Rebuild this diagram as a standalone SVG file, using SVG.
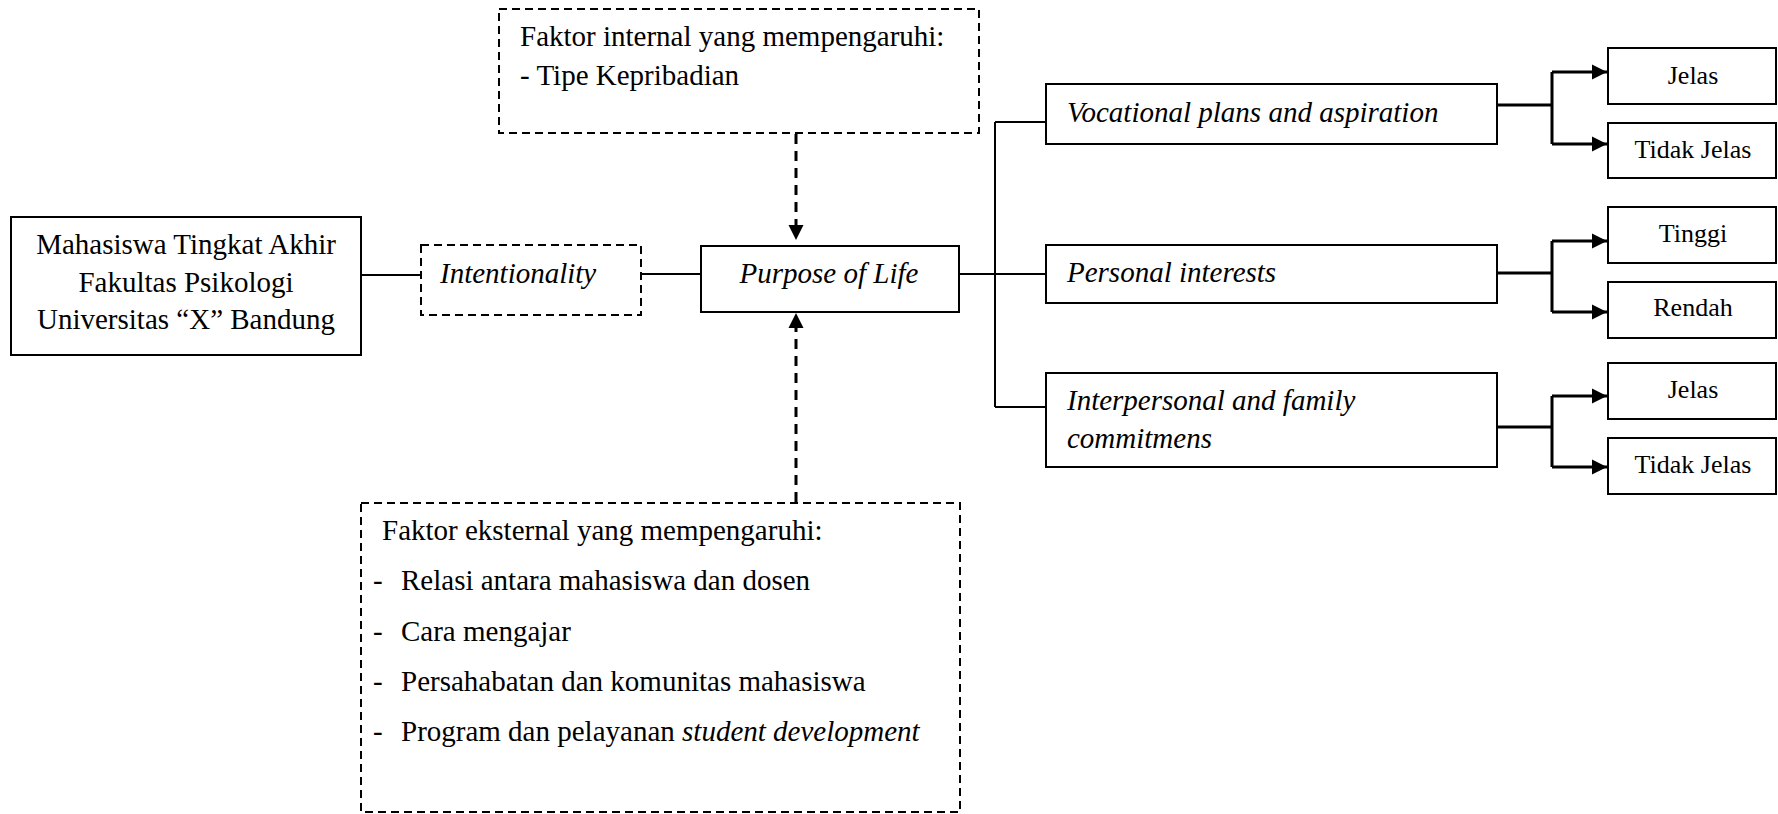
<svg xmlns="http://www.w3.org/2000/svg" width="1778" height="814" viewBox="0 0 1778 814">
<style>
text{font-family:"Liberation Serif","Times New Roman",serif;fill:#000}
.t{font-size:29px}
.r{font-size:26px;text-anchor:middle}
.i{font-style:italic}
.box{fill:#fff;stroke:#000;stroke-width:2}
.dbox{fill:#fff;stroke:#000;stroke-width:2;stroke-dasharray:8 5}
.ln{fill:none;stroke:#000;stroke-width:2}
.br{fill:none;stroke:#000;stroke-width:3}
.da{fill:none;stroke:#000;stroke-width:3;stroke-dasharray:10 7}
</style>
<defs>
<marker id="ah" markerUnits="userSpaceOnUse" markerWidth="16" markerHeight="16" viewBox="0 0 16 16" refX="15" refY="8" orient="auto">
<path d="M0,0.5 L15,8 L0,15.5 Z" fill="#000"/>
</marker>
</defs>
<g id="connectors">
<line class="ln" x1="361" y1="275" x2="421" y2="275"/>
<line class="ln" x1="641" y1="274" x2="701" y2="274"/>
<line class="ln" x1="959" y1="274" x2="1046" y2="274"/>
<line class="ln" x1="995" y1="122" x2="995" y2="407"/>
<line class="ln" x1="995" y1="122" x2="1046" y2="122"/>
<line class="ln" x1="995" y1="407" x2="1046" y2="407"/>
<line class="da" x1="796" y1="134" x2="796" y2="226"/>
<polygon points="788.5,225 803.5,225 796,240" fill="#000"/>
<line class="da" x1="796" y1="502" x2="796" y2="328"/>
<polygon points="788.5,328 803.5,328 796,313" fill="#000"/>
<path class="br" d="M1497,105 H1552 M1552,72 V144"/>
<path class="br" d="M1552,72 H1607" marker-end="url(#ah)"/>
<path class="br" d="M1552,144 H1607" marker-end="url(#ah)"/>
<path class="br" d="M1497,273 H1552 M1552,241 V312"/>
<path class="br" d="M1552,241 H1607" marker-end="url(#ah)"/>
<path class="br" d="M1552,312 H1607" marker-end="url(#ah)"/>
<path class="br" d="M1497,427 H1552 M1552,396 V467"/>
<path class="br" d="M1552,396 H1607" marker-end="url(#ah)"/>
<path class="br" d="M1552,467 H1607" marker-end="url(#ah)"/>
</g>
<g id="subject">
<rect class="box" x="11" y="217" width="350" height="138"/>
<text class="t" x="186" y="254" text-anchor="middle">Mahasiswa Tingkat Akhir</text>
<text class="t" x="186" y="292" text-anchor="middle">Fakultas Psikologi</text>
<text class="t" x="186" y="329" text-anchor="middle">Universitas “X” Bandung</text>
</g>
<g id="intentionality">
<rect class="dbox" x="421" y="245" width="220" height="70"/>
<text class="t i" x="440" y="283">Intentionality</text>
</g>
<g id="purpose">
<rect class="box" x="701" y="246" width="258" height="66"/>
<text class="t i" x="829" y="283" text-anchor="middle">Purpose of Life</text>
</g>
<g id="internal">
<rect class="dbox" x="499" y="9" width="480" height="124"/>
<text class="t" x="520" y="46">Faktor internal yang mempengaruhi:</text>
<text class="t" x="520" y="85">- Tipe Kepribadian</text>
</g>
<g id="external">
<rect class="dbox" x="361" y="503" width="599" height="309"/>
<text class="t" x="382" y="540">Faktor eksternal yang mempengaruhi:</text>
<text class="t" x="373" y="590">-</text><text class="t" x="401" y="590">Relasi antara mahasiswa dan dosen</text>
<text class="t" x="373" y="641">-</text><text class="t" x="401" y="641">Cara mengajar</text>
<text class="t" x="373" y="691">-</text><text class="t" x="401" y="691">Persahabatan dan komunitas mahasiswa</text>
<text class="t" x="373" y="741">-</text><text class="t" x="401" y="741">Program dan pelayanan <tspan class="i">student development</tspan></text>
</g>
<g id="vocational">
<rect class="box" x="1046" y="84" width="451" height="60"/>
<text class="t i" x="1067" y="122">Vocational plans and aspiration</text>
</g>
<g id="personal">
<rect class="box" x="1046" y="245" width="451" height="58"/>
<text class="t i" x="1067" y="282">Personal interests</text>
</g>
<g id="interpersonal">
<rect class="box" x="1046" y="373" width="451" height="94"/>
<text class="t i" x="1067" y="410">Interpersonal and family</text>
<text class="t i" x="1067" y="448">commitmens</text>
</g>
<g id="voc-jelas">
<rect class="box" x="1608" y="48" width="168" height="56"/>
<text class="r" x="1693" y="84">Jelas</text>
</g>
<g id="voc-tidak-jelas">
<rect class="box" x="1608" y="123" width="168" height="55"/>
<text class="r" x="1693" y="158">Tidak Jelas</text>
</g>
<g id="pi-tinggi">
<rect class="box" x="1608" y="207" width="168" height="56"/>
<text class="r" x="1693" y="242">Tinggi</text>
</g>
<g id="pi-rendah">
<rect class="box" x="1608" y="282" width="168" height="56"/>
<text class="r" x="1693" y="316">Rendah</text>
</g>
<g id="ifc-jelas">
<rect class="box" x="1608" y="363" width="168" height="56"/>
<text class="r" x="1693" y="398">Jelas</text>
</g>
<g id="ifc-tidak-jelas">
<rect class="box" x="1608" y="438" width="168" height="56"/>
<text class="r" x="1693" y="473">Tidak Jelas</text>
</g>
</svg>
